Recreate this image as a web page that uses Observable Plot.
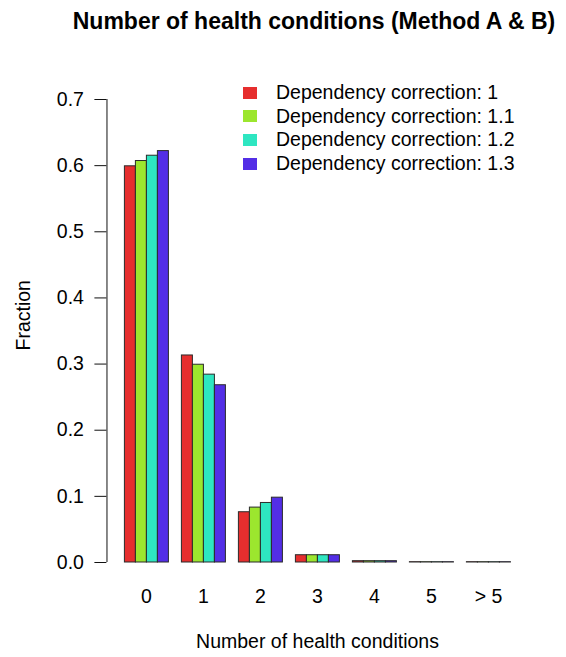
<!DOCTYPE html>
<html>
<head>
<meta charset="utf-8">
<script src="https://cdn.jsdelivr.net/npm/d3@7"></script>
<script src="https://cdn.jsdelivr.net/npm/@observablehq/plot@0.6"></script>
<style>
  html, body { margin: 0; padding: 0; background: #fff; }
  #wrap { position: relative; width: 566px; height: 657px; font-family: "Liberation Sans", Arial, sans-serif; color: #000; }
  #title { position: absolute; top: 9.5px; left: 314px; transform: translateX(-50%); white-space: nowrap;
           font-size: 23px; line-height: 23px; font-weight: bold; }
  #chart { position: absolute; top: 48px; left: 0; }
  #legend { position: absolute; left: 243px; top: 81px; }
  .row { display: flex; align-items: center; height: 23.6px; font-size: 19.5px; line-height: 23.6px; white-space: nowrap; }
  .sw { width: 14px; height: 12px; margin-right: 19px; flex: none; }
</style>
</head>
<body>
<div id="wrap">
  <div id="title"></div>
  <div id="chart"></div>
  <div id="legend"></div>
</div>
<script>
// Share of people by number of health conditions, for four dependency corrections
const titleText = "Number of health conditions (Method A & B)";
const xTitle = "Number of health conditions";
const yTitle = "Fraction";
const groups = ["0", "1", "2", "3", "4", "5", "> 5"];
const corrections = ["1", "1.1", "1.2", "1.3"];
const colors = ["#E62E2E", "#9CE62E", "#2EE6C1", "#532EE6"];
const yTicks = [0, 0.1, 0.2, 0.3, 0.4, 0.5, 0.6, 0.7];

const dc1  = [0.599, 0.313, 0.076, 0.011, 0.002, 0.0005, 0.0005];
const dc11 = [0.607, 0.299, 0.083, 0.011, 0.002, 0.0005, 0.0005];
const dc12 = [0.615, 0.284, 0.090, 0.011, 0.002, 0.0005, 0.0005];
const dc13 = [0.622, 0.268, 0.098, 0.011, 0.002, 0.0005, 0.0005];
const seriesValues = [dc1, dc11, dc12, dc13];

// long table: one row per bar
const rows = [];
groups.forEach((g, gi) => {
  corrections.forEach((c, si) => {
    rows.push({group: g, correction: c, value: seriesValues[si][gi]});
  });
});

document.getElementById("title").textContent = titleText;

const font = "'Liberation Sans', Arial, sans-serif";

const chart = Plot.plot({
  width: 566,
  height: 609,
  marginTop: 51,
  marginBottom: 95,
  marginLeft: 116.6,
  marginRight: 48.3,
  style: {fontFamily: font, fontSize: "19.5px", color: "#000", background: "#fff", overflow: "visible"},
  fx: {domain: groups, paddingInner: 0.2, paddingOuter: 0.1, label: null},
  x: {domain: corrections, padding: 0, axis: null},
  y: {domain: [0, d3.max(yTicks)], axis: null},
  color: {domain: corrections, range: colors},
  marks: [
    Plot.barY(rows, {fx: "group", x: "correction", y: "value", fill: "correction", stroke: "#2b2b2b", strokeWidth: 1}),
    // y axis: ticks and labels offset to the left of the first group
    Plot.axisY({ticks: yTicks, tickFormat: d3.format(".1f"), tickSize: 12, tickPadding: 11, dx: -16.6, label: null, stroke: "#111", fill: "#000"}),
    Plot.ruleX([{fx: groups[0]}], {fx: "fx", x: null, y1: yTicks[0], y2: d3.max(yTicks), dx: -16.6 - 22.92, stroke: "#111"}),
    Plot.axisFx({anchor: "bottom", tickSize: 0, tickPadding: 27, label: null, fill: "#000"}),
    Plot.text([{fx: groups[0], t: yTitle}], {fx: "fx", text: "t", frameAnchor: "left", rotate: -90, dx: -99.3, dy: 19.5, fill: "#000"}),
    Plot.text([{fx: groups[3], t: xTitle}], {fx: "fx", text: "t", frameAnchor: "bottom", lineAnchor: "bottom", dy: 85, fill: "#000"})
  ]
});
document.getElementById("chart").appendChild(chart);

// legend
const legend = document.getElementById("legend");
corrections.forEach((c, i) => {
  const row = document.createElement("div");
  row.className = "row";
  const sw = document.createElement("span");
  sw.className = "sw";
  sw.style.background = colors[i];
  const label = document.createElement("span");
  label.textContent = "Dependency correction: " + c;
  row.appendChild(sw);
  row.appendChild(label);
  legend.appendChild(row);
});
</script>
</body>
</html>
